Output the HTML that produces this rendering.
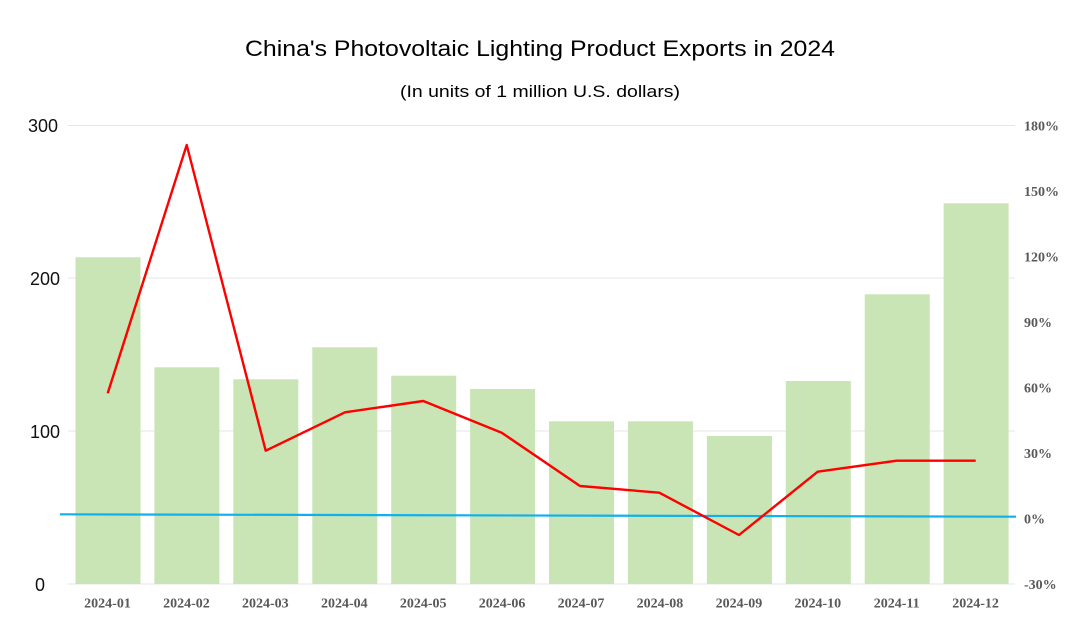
<!DOCTYPE html>
<html>
<head>
<meta charset="utf-8">
<style>
  html,body{margin:0;padding:0;background:#fff;}
  svg{display:block;}
</style>
</head>
<body>
<svg width="1080" height="618" viewBox="0 0 1080 618" xmlns="http://www.w3.org/2000/svg">
  <rect width="1080" height="618" fill="#fff"/>
  <!-- Titles -->
  <text x="540" y="56" text-anchor="middle" font-family="Liberation Sans, sans-serif" font-size="22" fill="#000" textLength="590" lengthAdjust="spacingAndGlyphs">China's Photovoltaic Lighting Product Exports in 2024</text>
  <text x="540" y="97" text-anchor="middle" font-family="Liberation Sans, sans-serif" font-size="17" fill="#000" textLength="280" lengthAdjust="spacingAndGlyphs">(In units of 1 million U.S. dollars)</text>

  <!-- gridlines -->
  <g stroke="#e6e6e6" stroke-width="1">
    <line x1="68" y1="125.5" x2="1015" y2="125.5"/>
    <line x1="68" y1="278" x2="1015" y2="278"/>
    <line x1="68" y1="431" x2="1015" y2="431"/>
    <line x1="68" y1="584" x2="1015" y2="584"/>
  </g>

  <!-- bars -->
  <g fill="#c9e4b5">
    <rect x="75.5" y="257.3" width="65" height="326.7"/>
    <rect x="154.4" y="367.3" width="65" height="216.7"/>
    <rect x="233.3" y="379.3" width="65" height="204.7"/>
    <rect x="312.3" y="347.3" width="65" height="236.7"/>
    <rect x="391.2" y="375.7" width="65" height="208.3"/>
    <rect x="470.1" y="389" width="65" height="195"/>
    <rect x="549.0" y="421.3" width="65" height="162.7"/>
    <rect x="627.9" y="421.3" width="65" height="162.7"/>
    <rect x="706.9" y="436" width="65" height="148"/>
    <rect x="785.8" y="381" width="65" height="203"/>
    <rect x="864.7" y="294.3" width="65" height="289.7"/>
    <rect x="943.6" y="203.3" width="65" height="380.7"/>
  </g>

  <!-- blue line -->
  <line x1="60" y1="514.3" x2="1016" y2="516.7" stroke="#10b0ec" stroke-width="2.2"/>

  <!-- red line -->
  <polyline fill="none" stroke="#ff0000" stroke-width="2.4" stroke-linejoin="round"
    points="107.7,393.3 186.7,145 265.7,450.7 345,412.3 423.3,401 501.7,432.7 580,486 659.3,492.7 739,535 817.7,471.7 896.7,460.7 975.7,460.7"/>

  <!-- left axis labels -->
  <g font-family="Liberation Sans, sans-serif" font-size="18" fill="#111" text-anchor="middle">
    <text x="43" y="132">300</text>
    <text x="45" y="285">200</text>
    <text x="45" y="438">100</text>
    <text x="40" y="591">0</text>
  </g>

  <!-- right axis labels -->
  <g font-family="Liberation Serif, serif" font-size="14" font-weight="bold" fill="#595959">
    <text x="1024" y="130.5">180%</text>
    <text x="1024" y="196">150%</text>
    <text x="1024" y="261.5">120%</text>
    <text x="1024" y="327">90%</text>
    <text x="1024" y="392.5">60%</text>
    <text x="1024" y="458">30%</text>
    <text x="1024" y="523.5">0%</text>
    <text x="1024" y="589">-30%</text>
  </g>

  <!-- x axis labels -->
  <g font-family="Liberation Serif, serif" font-size="14" font-weight="bold" fill="#595959" text-anchor="middle">
    <text x="107.5" y="607.5">2024-01</text>
    <text x="186.4" y="607.5">2024-02</text>
    <text x="265.3" y="607.5">2024-03</text>
    <text x="344.3" y="607.5">2024-04</text>
    <text x="423.2" y="607.5">2024-05</text>
    <text x="502.1" y="607.5">2024-06</text>
    <text x="581.0" y="607.5">2024-07</text>
    <text x="659.9" y="607.5">2024-08</text>
    <text x="738.9" y="607.5">2024-09</text>
    <text x="817.8" y="607.5">2024-10</text>
    <text x="896.7" y="607.5">2024-11</text>
    <text x="975.6" y="607.5">2024-12</text>
  </g>
</svg>
</body>
</html>
